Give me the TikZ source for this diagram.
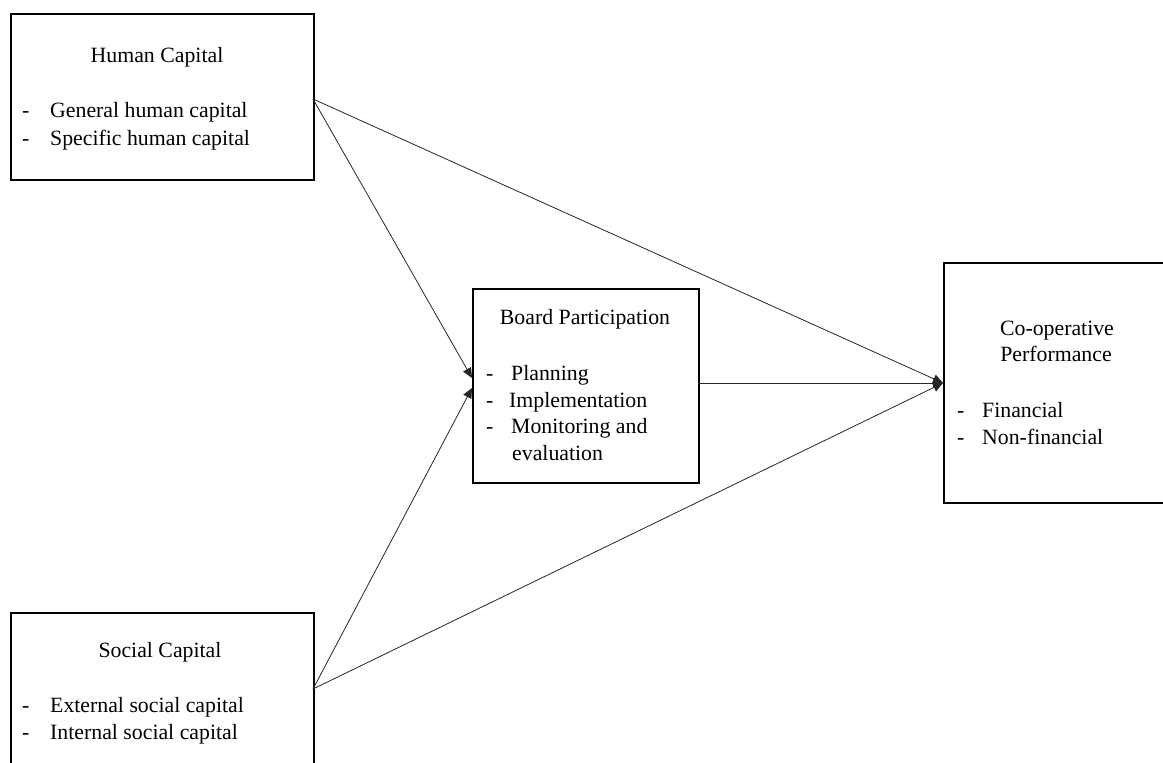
\documentclass[tikz,border=0pt]{standalone}
\usepackage{fontspec}
\setmainfont{Liberation Serif}
\usetikzlibrary{arrows.meta}
\tikzset{
  box/.style={draw=black, line width=1.8pt, inner sep=0pt, anchor=north west},
  txt/.style={inner sep=0pt, anchor=base, font=\fontsize{21.8}{26}\selectfont},
  ltxt/.style={inner sep=0pt, anchor=base west, font=\fontsize{21.8}{26}\selectfont},
  conn/.style={draw=black!85, line width=0.8pt, -{Triangle[length=10pt,width=9pt]}}
}
\begin{document}
\begin{tikzpicture}[x=1pt,y=-1pt]
\useasboundingbox (0,0) rectangle (1163,763);
\clip (0,0) rectangle (1163,763);
% boxes
\node[box, minimum width=303pt, minimum height=166pt] (hc) at (10,13) {};
\node[box, minimum width=303pt, minimum height=170pt] (sc) at (10,612) {};
\node[box, minimum width=226pt, minimum height=194pt] (bp) at (472,288) {};
\node[box, minimum width=240pt, minimum height=240pt] (co) at (943,262) {};
% Human Capital text
\node[txt] (hct) at (157,62) {Human Capital};
\node[ltxt] (hcd1) at (22,117) {-};
\node[ltxt] (hc1) at (50,117) {General human capital};
\node[ltxt] (hcd2) at (22,145) {-};
\node[ltxt] (hc2) at (50,145) {Specific human capital};
% Social Capital text
\node[txt] (sct) at (160,657) {Social Capital};
\node[ltxt] (scd1) at (22,712) {-};
\node[ltxt] (sc1) at (50,712) {External social capital};
\node[ltxt] (scd2) at (22,739) {-};
\node[ltxt] (sc2) at (50,739) {Internal social capital};
% Board Participation text
\node[txt] (bpt) at (585,324) {Board Participation};
\node[ltxt] (bpd1) at (486,380) {-};
\node[ltxt] (bp1) at (511,380) {Planning};
\node[ltxt] (bpd2) at (486,407) {-};
\node[ltxt] (bp2) at (509,407) {Implementation};
\node[ltxt] (bpd3) at (486,433) {-};
\node[ltxt] (bp3) at (511,433) {Monitoring and};
\node[ltxt] (bp4) at (512,460) {evaluation};
% Co-operative Performance text
\node[txt] (cot1) at (1057,335) {Co-operative};
\node[txt] (cot2) at (1056,361) {Performance};
\node[ltxt] (cod1) at (957,417) {-};
\node[ltxt] (co1) at (982,417) {Financial};
\node[ltxt] (cod2) at (957,444) {-};
\node[ltxt] (co2) at (982,444) {Non-financial};
% connector end points
\coordinate (hcA) at (313,99);
\coordinate (scA) at (313,689);
\coordinate (bpIn1) at (472,378);
\coordinate (bpIn2) at (472,388);
\coordinate (bpOut) at (698,383);
\coordinate (coIn) at (943,383);
% connectors
\draw[conn] (hcA) -- (bpIn1);
\draw[conn] (scA) -- (bpIn2);
\draw[conn] (hcA) -- (coIn);
\draw[conn] (scA) -- (coIn);
\draw[conn] (bpOut) -- (coIn);
\end{tikzpicture}
\end{document}
